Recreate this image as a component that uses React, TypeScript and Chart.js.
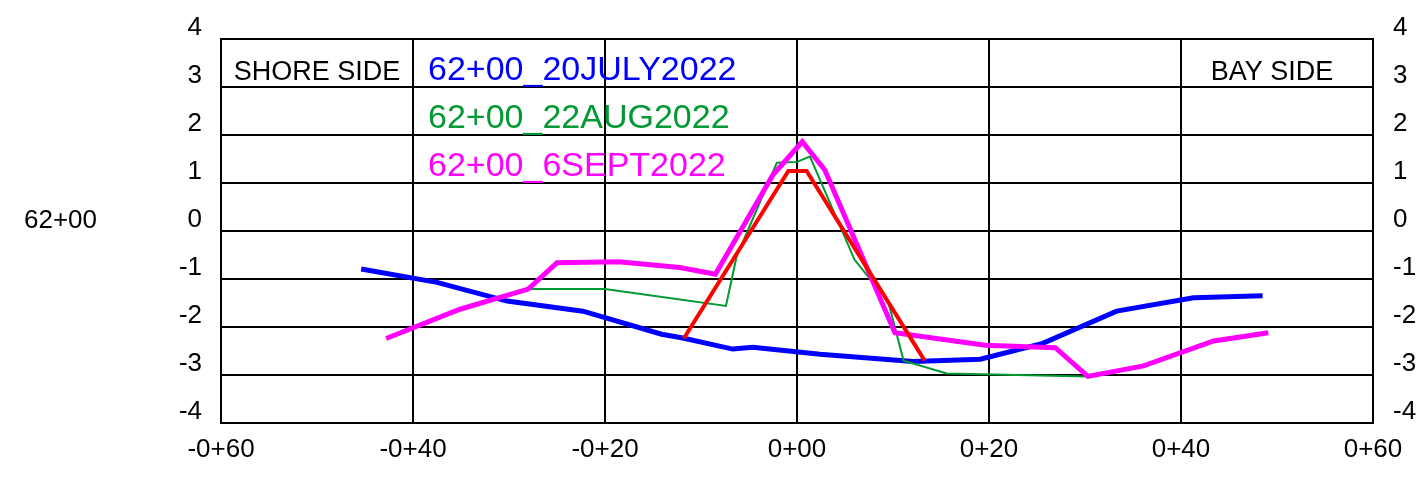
import React, { useEffect, useRef } from "react";
import { Chart, registerables } from "chart.js";

Chart.register(...registerables);

// Tick labels
const xTickValues = [-60, -40, -20, 0, 20, 40, 60];
const xTickLabels = ["-0+60", "-0+40", "-0+20", "0+00", "0+20", "0+40", "0+60"];
const yTickValues = [-4, -3, -2, -1, 0, 1, 2, 3, 4];

// 62+00_20JULY2022 (blue)
const julyX = [-45.4, -37.5, -30.2, -22.3, -14.1, -11.9, -6.7, -4.6, 2.4, 12.1, 19.1, 25.6, 33.3, 41.3, 48.5];
const julyY = [-0.79, -1.07, -1.46, -1.67, -2.15, -2.23, -2.46, -2.42, -2.57, -2.72, -2.67, -2.34, -1.67, -1.39, -1.35];

// 62+00_22AUG2022 (green)
const augX = [-28.0, -20.0, -7.4, -6.3, -2.1, 0.0, 1.35, 6.0, 9.5, 11.1, 15.6, 30.3];
const augY = [-1.21, -1.21, -1.56, -0.54, 1.42, 1.44, 1.55, -0.6, -1.47, -2.7, -2.97, -3.03];

// 62+00_6SEPT2022 (magenta)
const septX = [-42.8, -35.1, -28.0, -25.0, -18.6, -12.2, -8.5, -2.5, 0.55, 2.9, 10.2, 19.6, 26.9, 30.3, 36.1, 43.4, 49.1];
const septY = [-2.24, -1.63, -1.21, -0.66, -0.64, -0.76, -0.9, 1.17, 1.86, 1.27, -2.12, -2.38, -2.43, -3.03, -2.81, -2.29, -2.12];

// unlabeled red profile
const redX = [-11.8, -0.9, 1.0, 13.3];
const redY = [-2.24, 1.25, 1.25, -2.7];

const seriesNames = ["62+00_20JULY2022", "62+00_22AUG2022", "62+00_6SEPT2022"];
const seriesColors = ["#0000ff", "#009933", "#ff00ff"];
const sideLabels = ["SHORE SIDE", "BAY SIDE"];
const profileLabel = "62+00";

const FONT = "'Liberation Sans', Arial, sans-serif";

const toPoints = (xs: number[], ys: number[]) => xs.map((x, i) => ({ x, y: ys[i] }));

const zeroPad = (s: any) => {
  s.paddingTop = 0;
  s.paddingBottom = 0;
  s.paddingLeft = 0;
  s.paddingRight = 0;
};

const textPlugin = {
  id: "textPlugin",
  afterDraw(chart: any) {
    const { ctx, scales } = chart;
    const xs = scales.x;
    const ys = scales.y;
    ctx.save();
    ctx.textBaseline = "alphabetic";
    // side labels
    ctx.font = `27px ${FONT}`;
    ctx.fillStyle = "#000";
    ctx.textAlign = "center";
    const y3 = ys.getPixelForValue(3) - 7;
    ctx.fillText(sideLabels[0], (xs.getPixelForValue(-60) + xs.getPixelForValue(-40)) / 2, y3);
    ctx.fillText(sideLabels[1], (xs.getPixelForValue(40) + xs.getPixelForValue(60)) / 2 - 5, y3);
    // legend texts
    ctx.font = `34px ${FONT}`;
    ctx.textAlign = "left";
    seriesNames.forEach((n, i) => {
      ctx.fillStyle = seriesColors[i];
      ctx.fillText(n, xs.getPixelForValue(-40) + 15, ys.getPixelForValue(3 - i) - 7);
    });
    // profile label
    ctx.font = `26px ${FONT}`;
    ctx.fillStyle = "#000";
    ctx.fillText(profileLabel, 24, ys.getPixelForValue(0) - 3);
    ctx.restore();
  },
};

export default function App() {
  const ref = useRef<HTMLCanvasElement>(null);
  useEffect(() => {
    if (!ref.current) return;
    const line = (data: any, color: string, width: number, order: number) => ({
      data,
      borderColor: color,
      backgroundColor: color,
      borderWidth: width,
      pointRadius: 0,
      tension: 0,
      fill: false,
      order,
    });
    const gridCommon = {
      color: "#000",
      lineWidth: 2,
      drawTicks: false,
    };
    const chart = new Chart(ref.current, {
      type: "line",
      data: {
        datasets: [
          line(toPoints(julyX, julyY), seriesColors[0], 5, 3),
          line(toPoints(augX, augY), seriesColors[1], 2, 2),
          line(toPoints(septX, septY), seriesColors[2], 5, 1),
          line(toPoints(redX, redY), "#ff0000", 4, 0),
        ],
      },
      options: {
        animation: false,
        responsive: true,
        maintainAspectRatio: false,
        layout: { padding: { top: 39, left: 0, right: 0, bottom: 0 } },
        plugins: { legend: { display: false }, tooltip: { enabled: false } },
        scales: {
          x: {
            type: "linear",
            min: -60,
            max: 60,
            afterBuildTicks: (s: any) => {
              s.ticks = xTickValues.map((v) => ({ value: v }));
            },
            afterFit: (s: any) => {
              s.height = 54;
              zeroPad(s);
            },
            grid: gridCommon,
            border: { color: "#000", width: 2 },
            ticks: {
              padding: 11,
              color: "#000",
              font: { family: FONT, size: 26 },
              maxRotation: 0,
              autoSkip: false,
              callback: (v: any) => xTickLabels[xTickValues.indexOf(Number(v))] ?? "",
            },
          },
          y: {
            type: "linear",
            position: "left",
            min: -4,
            max: 4,
            afterBuildTicks: (s: any) => {
              s.ticks = yTickValues.map((v) => ({ value: v }));
            },
            afterFit: (s: any) => {
              s.width = 221;
              zeroPad(s);
            },
            grid: gridCommon,
            border: { color: "#000", width: 2 },
            ticks: {
              padding: 19,
              labelOffset: -11,
              color: "#000",
              font: { family: FONT, size: 26 },
              callback: (v: any) => String(v),
            },
          },
          y2: {
            type: "linear",
            position: "right",
            min: -4,
            max: 4,
            afterBuildTicks: (s: any) => {
              s.ticks = yTickValues.map((v) => ({ value: v }));
            },
            afterFit: (s: any) => {
              s.width = 48;
              zeroPad(s);
            },
            grid: { display: false, drawTicks: false },
            border: { color: "#000", width: 2 },
            ticks: {
              padding: 20,
              labelOffset: -11,
              color: "#000",
              font: { family: FONT, size: 26 },
              callback: (v: any) => String(v),
            },
          },
        },
      },
      plugins: [textPlugin],
    } as any);
    return () => chart.destroy();
  }, []);
  return (
    <div style={{ width: "1421px", height: "477px", position: "absolute", left: 0, top: 0 }}>
      <canvas ref={ref} />
    </div>
  );
}
